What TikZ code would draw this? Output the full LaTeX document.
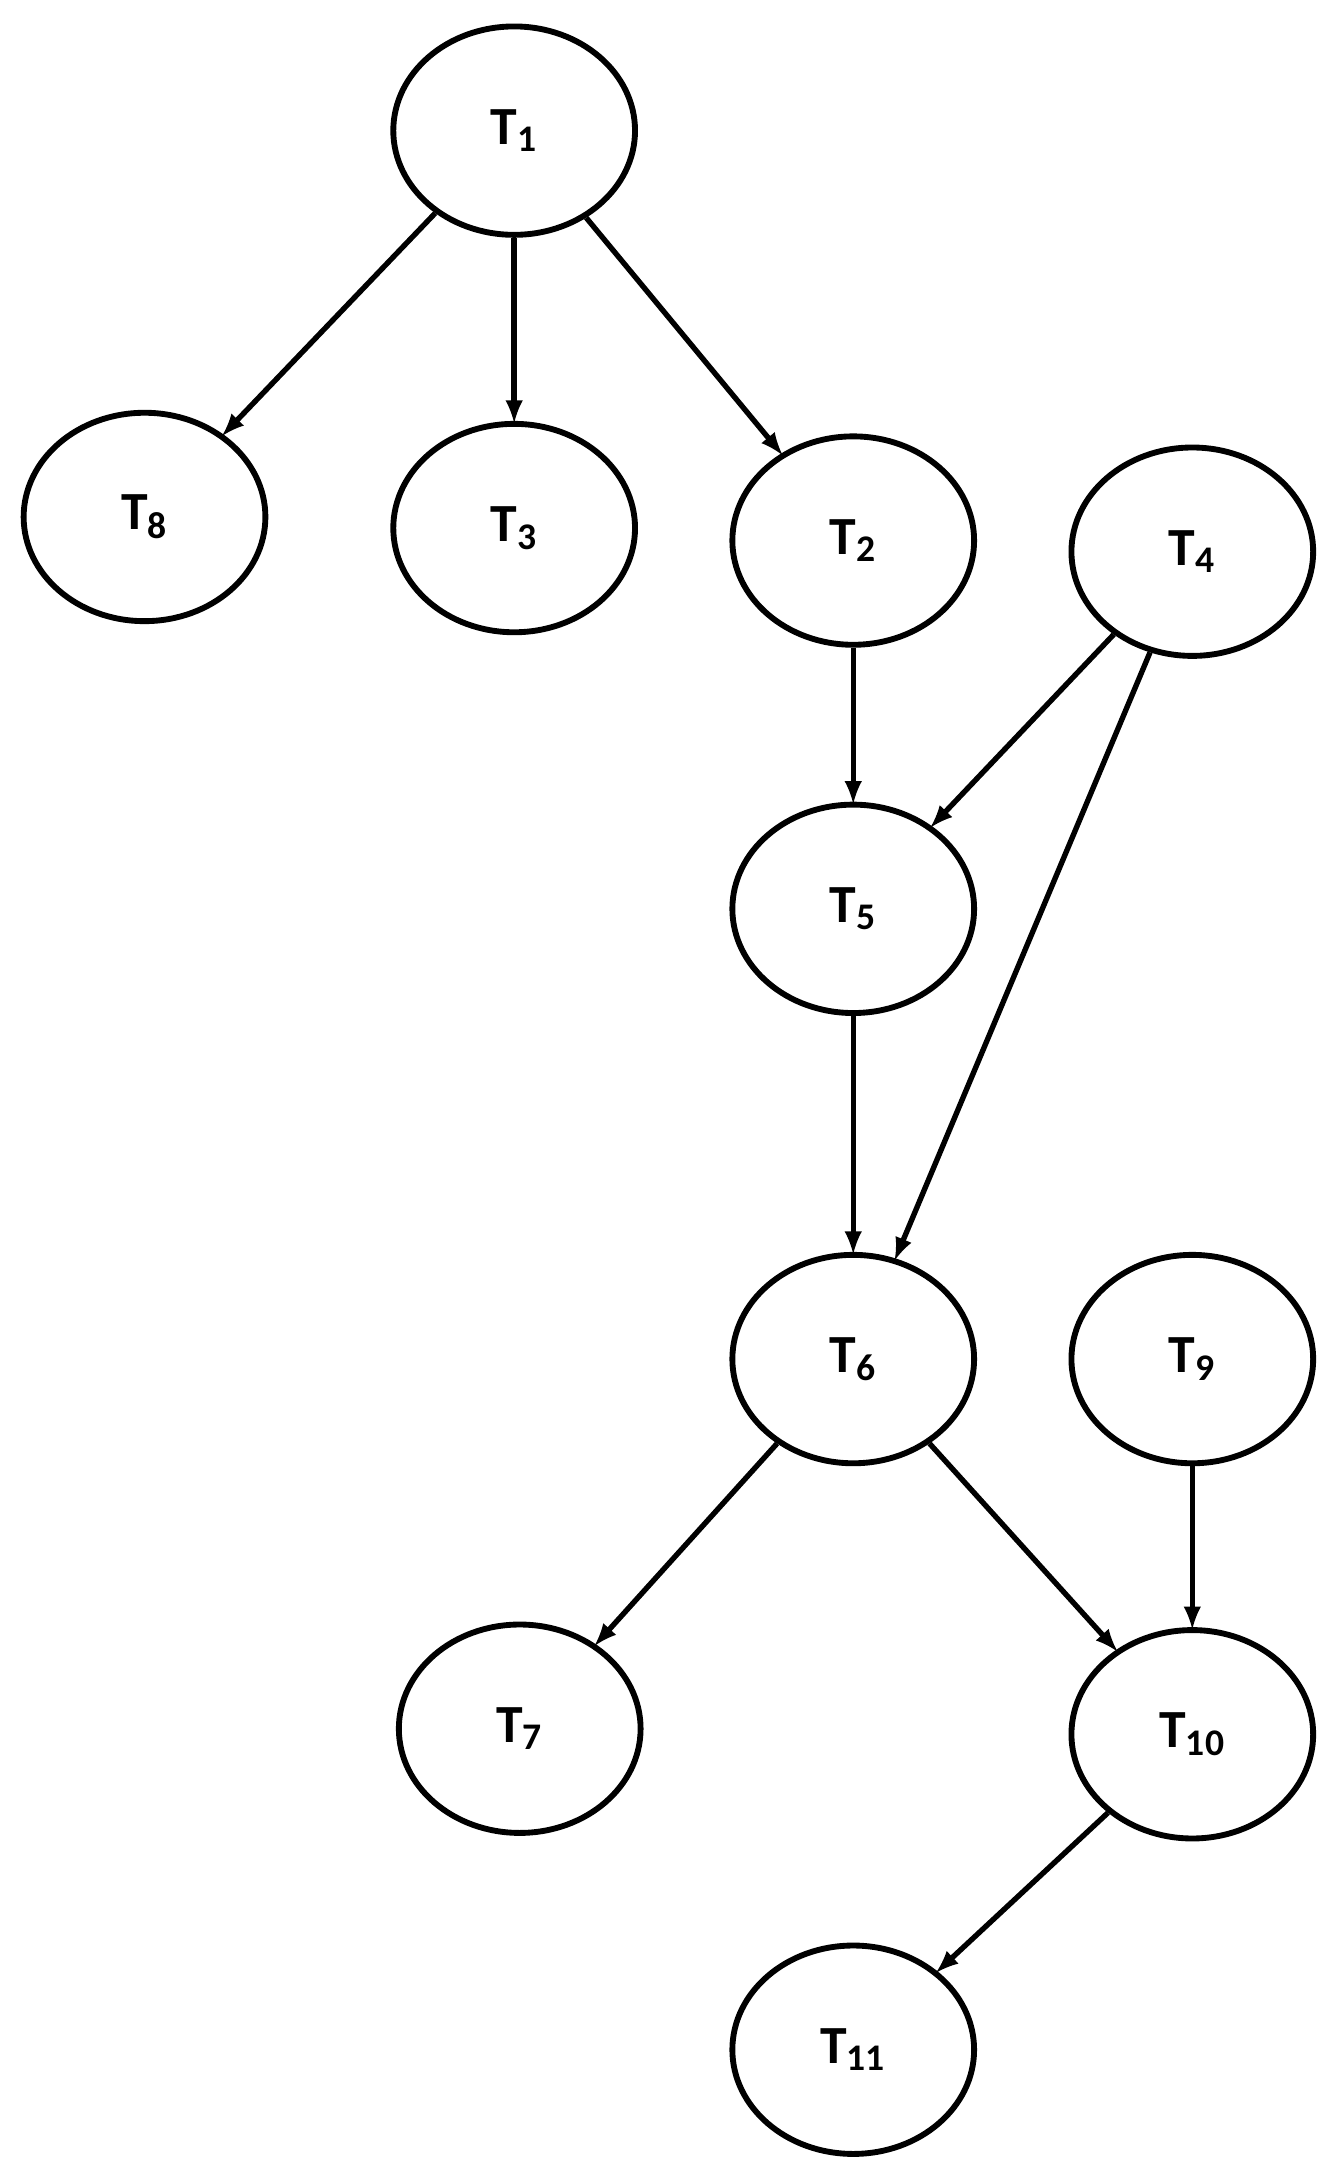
\documentclass[tikz,border=0pt]{standalone}
\usepackage{fontspec}
\setmainfont{Carlito}
\usetikzlibrary{shapes.geometric, arrows}
\tikzset{
every picture/.style={line width=2.2pt, >=latex},
%%%%%%%%%%  Node styles
task/.style={ellipse,draw,line width=2.4pt,minimum width=3.48cm,
             minimum height=3cm,inner sep=0pt,
             font=\fontsize{22}{24}\selectfont\bfseries},
%%%%%%%%%%  Edge style
dep/.style={->,shorten >=-1pt}
}

\begin{document}
\begin{tikzpicture}[x=0.02cm,y=-0.02cm]
\useasboundingbox (0,0) rectangle (962,1563);
%%tasks
\node[task] (t1) at (370,94) {T$_{\mathbf{1}}$};
\node[task] (t8) at (104,372) {T$_{\mathbf{8}}$};
\node[task] (t3) at (370,380) {T$_{\mathbf{3}}$};
\node[task] (t2) at (614,389) {T$_{\mathbf{2}}$};
\node[task] (t4) at (858,397) {T$_{\mathbf{4}}$};
\node[task] (t5) at (614,654) {T$_{\mathbf{5}}$};
\node[task] (t6) at (614,978) {T$_{\mathbf{6}}$};
\node[task] (t9) at (858,978) {T$_{\mathbf{9}}$};
\node[task] (t7) at (374,1244) {T$_{\mathbf{7}}$};
\node[task] (t10) at (858,1248) {T$_{\mathbf{10}}$};
\node[task] (t11) at (614,1475) {T$_{\mathbf{11}}$};
%%dependencies
\draw[dep] (t1) -- (t8);
\draw[dep] (t1) -- (t3);
\draw[dep] (t1) -- (t2);
\draw[dep] (t2) -- (t5);
\draw[dep] (t4) -- (t5);
\draw[dep] (t4) -- (t6);
\draw[dep] (t5) -- (t6);
\draw[dep] (t6) -- (t7);
\draw[dep] (t6) -- (t10);
\draw[dep] (t9) -- (t10);
\draw[dep] (t10) -- (t11);
\end{tikzpicture}
\end{document}
